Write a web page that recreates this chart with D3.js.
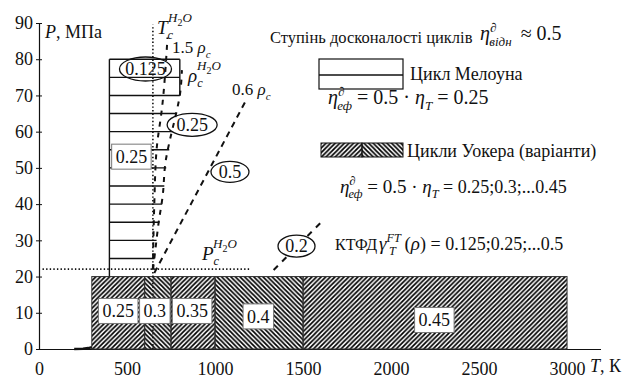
<!DOCTYPE html>
<html>
<head>
<meta charset="utf-8">
<script src="https://cdn.jsdelivr.net/npm/d3@7"></script>
</head>
<body style="margin:0;background:#fff">
<div id="chart"></div>
<script>
// ---------------- data ----------------
var xTicks = [0, 500, 1000, 1500, 2000, 2500, 3000];
var yTicks = [0, 10, 20, 30, 40, 50, 60, 70, 80, 90];

// Walker cycle variants: temperature bounds (K), efficiency, top pressure (MPa)
var walkerBounds = [300, 600, 750, 1000, 1500, 3000];
var walkerEff = ["0.25", "0.3", "0.35", "0.4", "0.45"];
var walkerHatch = ["fwd", "back", "fwd", "back", "fwd"];
var walkerPmax = 20;
var walkerLabelT = [450, 658, 870, 1246, 2246];
var walkerLabelP = [10.5, 10.5, 10.5, 9, 8];

// Mellon cycle: left T, right T, pressure levels and where each level ends (rho_c isochore)
var mellonTmin = 400, mellonTmax = 800;
var mellonPmin = 20, mellonPmax = 80;
var mellonLevels = [25, 30, 35, 40, 45, 50, 55, 60, 65, 70, 75, 80];
var mellonEnds = [657, 668, 684, 700, 712, 723, 740, 760, 779, 800, 800, 800];
var mellonLabel = {t: "0.25", T: 525, P: 53.1};

// critical point of water
var Tc = 647, Pc = 22.06;

// isochores / efficiency lines [T, P]
var iso15 = [[647, 22], [655, 40], [668, 55], [700, 67], [730, 86]];
var isoRho = [[648, 22], [660, 27], [680, 35], [702, 42], [720, 52], [745, 58], [779, 65], [800, 70], [812, 77]];
var iso06 = [[655, 21], [1180, 69]];
var iso02 = [[1333, 21.8], [1599, 34.8]];

// saturation stub near the origin
var satLine = [[200, 0], [250, 0.08], [280, 0.25], [300, 0.5]];

// circled efficiency marks
var circled = [
  {t: "0.125", T: 605, P: 77.3, rx: 26, ry: 12, fill: "none"},
  {t: "0.25", T: 870, P: 61.9, rx: 25, ry: 11.5, fill: "none"},
  {t: "0.5", T: 1085, P: 48.9, rx: 19, ry: 10.5, fill: "none"},
  {t: "0.2", T: 1463, P: 28.4, rx: 18.5, ry: 11, fill: "#fff"}
];

// ---------------- scales ----------------
var width = 622, height = 380;
var FONT = "Liberation Serif";
var x = d3.scaleLinear().domain([0, 3190]).range([39, 600.5]);
var y = d3.scaleLinear().domain([0, 90]).range([349, 23]);

var svg = d3.select("#chart").append("svg")
  .attr("width", width).attr("height", height);

function txt(px, py, fs, s) {
  return svg.append("text").attr("x", px).attr("y", py)
    .attr("font-family", FONT).attr("font-size", fs).attr("fill", "#111").text(s);
}

//hatch patterns
var defs = svg.append("defs");
function hatch(id, d) {
  defs.append("pattern")
    .attr("id", id)
    .attr("patternUnits", "userSpaceOnUse")
    .attr("width", 4.6).attr("height", 4.6)
    .append("path")
    .attr("d", d)
    .attr("stroke", "#000").attr("stroke-width", 1.7);
}
hatch("fwd", "M-1,1 l2,-2 M0,4.6 l4.6,-4.6 M3.6,5.6 l2,-2");
hatch("back", "M-1,3.6 l2,2 M0,0 l4.6,4.6 M3.6,-1 l2,2");

// ---------------- axes ----------------
var yAxisG = svg.append("g")
  .attr("transform", "translate(" + x(0) + ",0)")
  .call(d3.axisLeft(y).tickValues(yTicks).tickSizeOuter(0).tickSize(3).tickPadding(3));
yAxisG.selectAll(".tick line").attr("x1", 3).attr("stroke", "#111");
yAxisG.selectAll("text").attr("fill", "#111").attr("font-family", FONT).attr("font-size", 18);
yAxisG.select(".domain").attr("stroke", "#111").attr("stroke-width", 1.2);

var xAxisG = svg.append("g")
  .attr("transform", "translate(0," + y(0) + ")")
  .call(d3.axisBottom(x).tickValues(xTicks).tickFormat(d3.format("d"))
    .tickSizeOuter(0).tickSize(0).tickPadding(13));
xAxisG.selectAll("text").attr("fill", "#111").attr("font-family", FONT).attr("font-size", 18);
xAxisG.select(".domain").attr("stroke", "#111").attr("stroke-width", 1.2);

// ---------------- Walker rectangles ----------------
var walker = walkerEff.map(function(e, i) {
  return {t: e, T0: walkerBounds[i], T1: walkerBounds[i + 1], hatch: walkerHatch[i],
          lT: walkerLabelT[i], lP: walkerLabelP[i]};
});
svg.selectAll(".walker").data(walker).enter().append("rect")
  .attr("class", "walker")
  .attr("x", function(d) { return x(d.T0); })
  .attr("y", y(walkerPmax))
  .attr("width", function(d) { return x(d.T1) - x(d.T0); })
  .attr("height", y(0) - y(walkerPmax))
  .attr("fill", function(d) { return "url(#" + d.hatch + ")"; })
  .attr("stroke", "#333").attr("stroke-width", 1);

// saturation stub
var line = d3.line().x(function(d) { return x(d[0]); }).y(function(d) { return y(d[1]); });
svg.append("path").attr("d", line(satLine))
  .attr("fill", "none").attr("stroke", "#111").attr("stroke-width", 2.5);

// ---------------- Mellon cycle ----------------
var mellon = svg.append("g").attr("stroke", "#111").attr("stroke-width", 1.4);
mellon.selectAll("line.lvl").data(mellonLevels).enter().append("line")
  .attr("x1", x(mellonTmin))
  .attr("x2", function(d, i) { return x(mellonEnds[i]); })
  .attr("y1", function(d) { return y(d); })
  .attr("y2", function(d) { return y(d); });
mellon.append("line")
  .attr("x1", x(mellonTmin)).attr("x2", x(mellonTmin))
  .attr("y1", y(mellonPmin)).attr("y2", y(mellonPmax));
mellon.append("line")
  .attr("x1", x(mellonTmax)).attr("x2", x(mellonTmax))
  .attr("y1", y(70)).attr("y2", y(mellonPmax));

// ---------------- critical lines ----------------
svg.append("line")
  .attr("x1", x(Tc)).attr("x2", x(Tc)).attr("y1", y(0)).attr("y2", y(89.5))
  .attr("stroke", "#111").attr("stroke-width", 1.6).attr("stroke-dasharray", "1.4,2.2");
svg.append("line")
  .attr("x1", x(20)).attr("x2", x(1200)).attr("y1", y(Pc)).attr("y2", y(Pc))
  .attr("stroke", "#111").attr("stroke-width", 1.6).attr("stroke-dasharray", "1.4,2.2");

function dashed(pts, dash) {
  svg.append("path").attr("d", line.curve(d3.curveMonotoneY)(pts))
    .attr("fill", "none").attr("stroke", "#111").attr("stroke-width", 2)
    .attr("stroke-dasharray", dash);
}
dashed(iso15, "5,6");
dashed(isoRho, "5,6");
dashed(iso06, "6,5");
dashed(iso02, "6,6");

// ---------------- labels in boxes ----------------
function boxLabel(t, cx, cy, fs) {
  var g = svg.append("g");
  var tx = g.append("text").attr("x", cx).attr("y", cy + fs * 0.34)
    .attr("text-anchor", "middle").attr("font-family", FONT)
    .attr("font-size", fs).attr("fill", "#111").text(t);
  var bb = tx.node().getBBox();
  g.insert("rect", "text")
    .attr("x", bb.x - 4).attr("y", cy - 12.5)
    .attr("width", bb.width + 8).attr("height", 25)
    .attr("fill", "#fff").attr("stroke", "#777").attr("stroke-width", 1);
}
walker.forEach(function(d) { boxLabel(d.t, x(d.lT), y(d.lP), 18); });
boxLabel(mellonLabel.t, x(mellonLabel.T), y(mellonLabel.P), 18);

// circled marks
circled.forEach(function(d) {
  svg.append("ellipse")
    .attr("cx", x(d.T)).attr("cy", y(d.P)).attr("rx", d.rx).attr("ry", d.ry)
    .attr("fill", d.fill).attr("stroke", "#111").attr("stroke-width", 1.3);
  txt(x(d.T), y(d.P) + 6, 18, d.t).attr("text-anchor", "middle");
});

// ---------------- text with sub/superscripts ----------------
function rich(px, py, fs, parts) {
  var t = txt(px, py, fs, null);
  var cur = 0;
  parts.forEach(function(p) {
    var s = t.append("tspan").text(p.t);
    var off = 0, size = fs;
    if (p.sup) { off = -0.42 * fs; size = 0.65 * fs; }
    if (p.sub) { off = 0.28 * fs; size = 0.65 * fs; }
    if (p.size) size = p.size;
    s.attr("dy", off - cur).attr("font-size", size).attr("font-family", FONT);
    if (p.i) s.attr("font-style", "italic");
    if (p.dx) s.attr("dx", p.dx);
    cur = off;
  });
  return t;
}
function critical(px, py, sym) {
  var w = sym === "ρ" ? 9 : 11;
  rich(px, py, 19, [{t: sym, i: 1}, {t: "c", sub: 1, i: 1}]);
  rich(px + w, py - 12, 13, [{t: "H", i: 1}, {t: "2", sub: 1, size: 10}, {t: "O", i: 1, size: 13}]);
}

// axis titles
rich(45, 38, 18, [{t: "P", i: 1}, {t: ", МПа"}]);
rich(590, 372, 18, [{t: "T", i: 1}, {t: ", К"}]);

critical(157, 34, "T");
critical(188, 82, "ρ");
critical(202, 260, "P");
rich(172, 53, 17, [{t: "1.5 "}, {t: "ρ", i: 1}, {t: "c", sub: 1, i: 1}]);
rich(232, 95, 17, [{t: "0.6 "}, {t: "ρ", i: 1}, {t: "c", sub: 1, i: 1}]);

// legend
txt(270, 43, 16.5, "Ступінь досконалості циклів");
rich(480, 40, 20, [{t: "η", i: 1}, {t: "∂", sup: 1}, {t: "відн", sub: 1, i: 1, dx: -7},
                   {t: " ≈ 0.5", size: 20, dx: 4}]);

svg.append("rect").attr("x", 319).attr("y", 59).attr("width", 84).attr("height", 30)
  .attr("fill", "#fff").attr("stroke", "#111").attr("stroke-width", 1.2);
svg.append("line").attr("x1", 319).attr("x2", 403).attr("y1", 75).attr("y2", 75)
  .attr("stroke", "#111").attr("stroke-width", 1.6);
txt(410, 80, 18, "Цикл Мелоуна");
rich(328, 104, 20, [{t: "η", i: 1}, {t: "∂", sup: 1}, {t: "еф", sub: 1, i: 1, dx: -7},
                    {t: " = 0.5 · ", size: 20}, {t: "η", i: 1, size: 20}, {t: "T", sub: 1, i: 1},
                    {t: " = 0.25", size: 20}]);

svg.append("rect").attr("x", 321).attr("y", 143).attr("width", 41).attr("height", 14)
  .attr("fill", "url(#fwd)").attr("stroke", "#111").attr("stroke-width", 1);
svg.append("rect").attr("x", 362).attr("y", 143).attr("width", 41).attr("height", 14)
  .attr("fill", "url(#back)").attr("stroke", "#111").attr("stroke-width", 1);
txt(407, 157, 18, "Цикли Уокера (варіанти)");
rich(340, 193, 19, [{t: "η", i: 1}, {t: "∂", sup: 1}, {t: "еф", sub: 1, i: 1, dx: -7},
                    {t: " = 0.5 · ", size: 19}, {t: "η", i: 1, size: 19}, {t: "T", sub: 1, i: 1},
                    {t: " = 0.25;0.3;...0.45", size: 18}]);

txt(335, 250, 16, "КТФД");
rich(379, 250, 19, [{t: "γ", i: 1}, {t: "FT", sup: 1, i: 1}, {t: "T", sub: 1, i: 1, dx: -12},
                    {t: " (", size: 19, dx: 4}, {t: "ρ", i: 1, size: 19},
                    {t: ") = 0.125;0.25;...0.5", size: 18}]);
</script>
</body>
</html>
